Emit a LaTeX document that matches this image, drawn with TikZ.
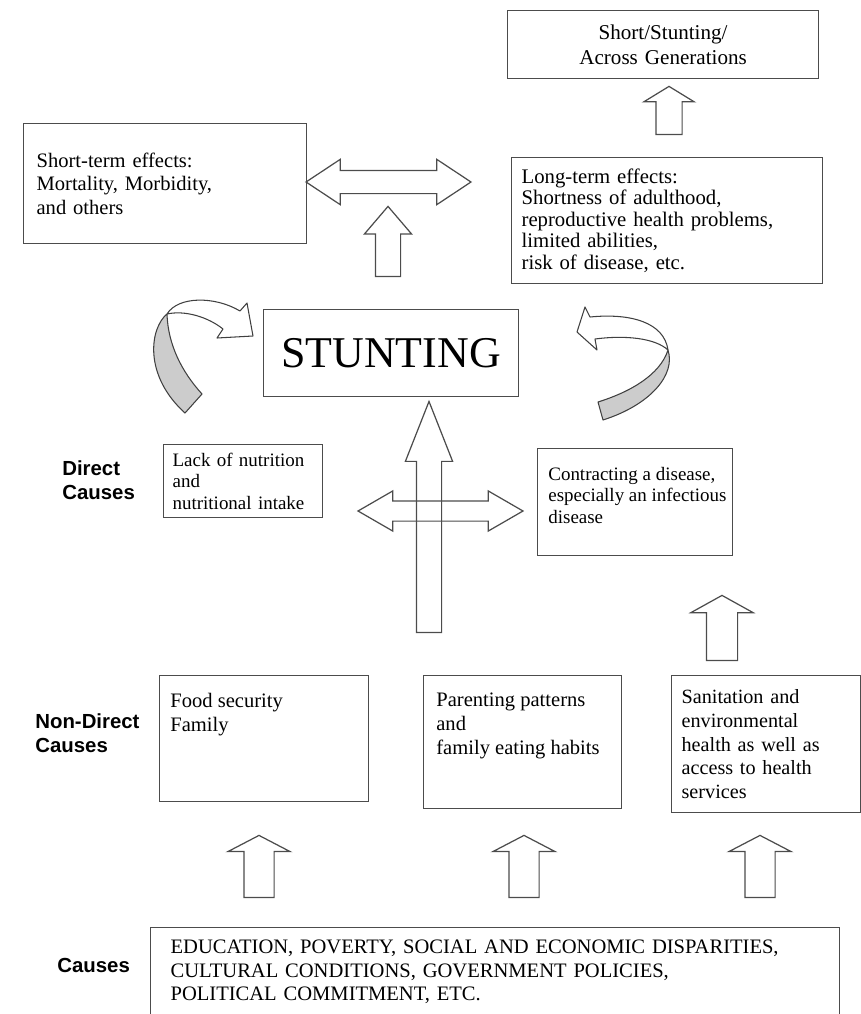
\documentclass[tikz,border=0pt]{standalone}
\usepackage{fontspec}
\setmainfont{Liberation Serif}
\setsansfont{Liberation Sans}
\usetikzlibrary{shapes.arrows}

\begin{document}
\begin{tikzpicture}[
x=0.02cm, y=-0.02cm,
box/.style={draw=black!70, line width=0.7pt, anchor=north west, align=left, inner ysep=0pt, font=\fontsize{11.7}{13.3}\selectfont},
txt/.style={anchor=north west, align=left, inner sep=0pt, font=\fontsize{11.7}{13.4}\selectfont},
side/.style={anchor=west, align=left, inner sep=0pt, font=\sffamily\bfseries\fontsize{11.6}{13.7}\selectfont},
uparr/.style n args={4}{single arrow, draw=black!70, line width=0.7pt, rotate=90, anchor=tail, inner xsep=0pt, inner ysep=#2, single arrow head extend=#3, single arrow tip angle=#4, minimum height=#1},
dblarr/.style n args={4}{double arrow, draw=black!70, line width=0.7pt, inner xsep=0pt, inner ysep=#2, double arrow head extend=#3, double arrow tip angle=#4, minimum height=#1},
ribbon/.style={draw=black!75, line width=0.6pt, line join=round}
]
\useasboundingbox (0,0) rectangle (861,1014);

\node[box, align=center, inner xsep=0.1cm, text width=6.02cm, minimum height=1.36cm, font=\fontsize{12}{14.2}\selectfont] (gen) at (507,10) {Short/Stunting/\\Across Generations};
\node[box, inner xsep=0.26cm, text width=5.14cm, minimum height=2.4cm] (short) at (23,123) {Short-term effects:\\Mortality, Morbidity,\\and others};
\node[box, inner xsep=0.2cm, text width=5.82cm, minimum height=2.52cm, font=\fontsize{11.8}{12.2}\selectfont] (long) at (511,157) {Long-term effects:\\Shortness of adulthood,\\reproductive health problems,\\limited abilities,\\risk of disease, etc.};
\node[box, align=center, minimum width=5.1cm, minimum height=1.74cm, font=\fontsize{25}{30}\selectfont] (stunt) at (263,309) {STUNTING};

\node[box, inner xsep=0.18cm, text width=2.82cm, minimum height=1.46cm, font=\fontsize{10.8}{12.2}\selectfont] (lack) at (163,444) {Lack of nutrition\\and\\nutritional intake};
\node[box, minimum width=3.9cm, minimum height=2.14cm] (dis) at (537,448) {};
\node[txt, font=\fontsize{10.8}{12.2}\selectfont] (disT) at ([shift={(11,19)}]dis.north west) {Contracting a disease,\\especially an infectious\\disease};

\node[box, minimum width=4.18cm, minimum height=2.52cm] (food) at (159,675) {};
\node[txt] (foodT) at ([shift={(11,18)}]food.north west) {Food security\\Family};
\node[box, minimum width=3.96cm, minimum height=2.66cm] (par) at (423,675) {};
\node[txt] (parT) at ([shift={(13,18)}]par.north west) {Parenting patterns\\and\\family eating habits};
\node[box, inner xsep=0.2cm, text width=3.38cm, minimum height=2.74cm, font=\fontsize{11.5}{13.5}\selectfont] (san) at (671,675) {Sanitation and\\environmental\\health as well as\\access to health\\services};
\node[box, inner xsep=0.4cm, text width=12.98cm, minimum height=1.78cm] (cause) at (150,927) {EDUCATION, POVERTY, SOCIAL AND ECONOMIC DISPARITIES,\\CULTURAL CONDITIONS, GOVERNMENT POLICIES,\\POLITICAL COMMITMENT, ETC.};

\node[side] (dirL) at (62,480) {Direct\\Causes};
\node[side] (nonL) at (35,733) {Non-Direct\\Causes};
\node[side] (causeL) at (57,965) {Causes};

\node[uparr={0.96cm}{0.25cm}{0.24cm}{117}] (genA) at (669,135) {};
\node[uparr={1.4cm}{0.24cm}{0.22cm}{81}] (effA) at (388,277) {};
\node[dblarr={3.3cm}{0.22cm}{0.22cm}{67}] (effD) at (388.5,182) {};
\node[uparr={4.62cm}{0.24cm}{0.22cm}{43}] (mainA) at (429,633) {};
\node[dblarr={3.3cm}{0.19cm}{0.2cm}{60}] (dirD) at (440.5,511) {};
\node[uparr={1.3cm}{0.3cm}{0.31cm}{122}] (disA) at (722,661) {};
\foreach \x/\n in {259/foodA, 524/parA, 760/sanA}
  \node[uparr={1.24cm}{0.29cm}{0.32cm}{125}] (\n) at (\x,898) {};

\filldraw[ribbon, fill=gray!40] (167,314) .. controls (150,328) and (143,375) .. (185,413) -- (202,394) .. controls (182,372) and (168,345) .. cycle;
\filldraw[ribbon, fill=white] (167,314) .. controls (178,296) and (215,296) .. (240,311) -- (247,303) -- (253,336) -- (217,338) -- (223,329) .. controls (208,317) and (185,310) .. cycle;
\filldraw[ribbon, fill=gray!40] (668,350) .. controls (676,375) and (650,405) .. (603,420) -- (598,402) .. controls (630,392) and (660,375) .. cycle;
\filldraw[ribbon, fill=white] (668,350) .. controls (664,322) and (630,313) .. (590,317) -- (585,307) -- (577,332) -- (597,350) -- (595,339) .. controls (625,335) and (655,338) .. cycle;
\end{tikzpicture}
\end{document}
